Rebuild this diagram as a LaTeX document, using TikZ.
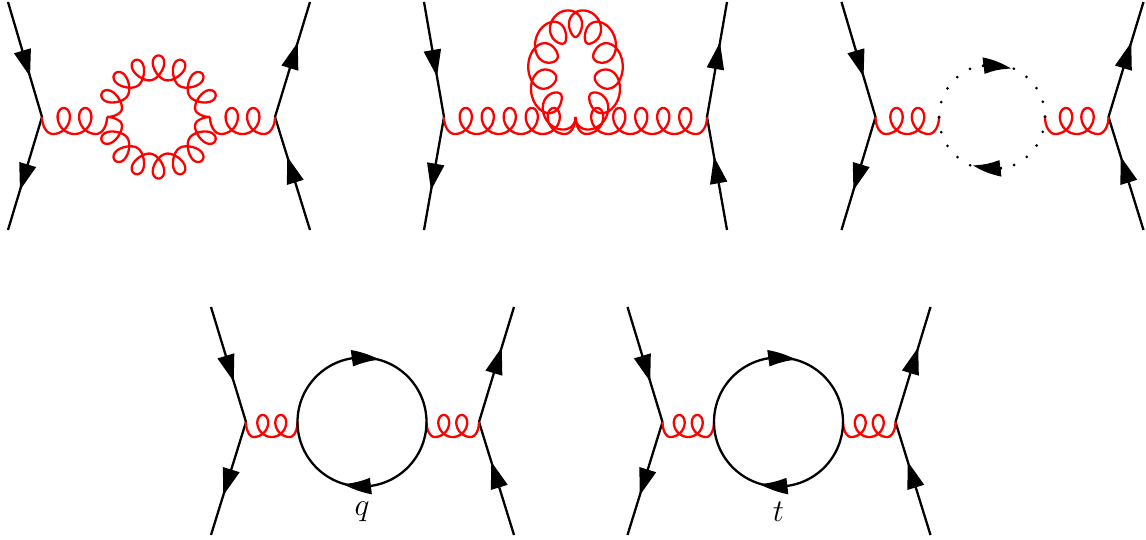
\documentclass[tikz,border=0pt]{standalone}
\usetikzlibrary{arrows.meta,bending,decorations.markings}
\tikzset{
    fermion/.style={draw,line width=1.15pt,
        decoration={markings,mark=at position 0.65 with {\arrow{Triangle[length=13.5pt,width=8.5pt]}}},
        postaction={decorate}},
    gluon/.style={draw=red,line width=1.15pt,line join=round},
    ringdots/.style={line width=1.5pt,line cap=round,dash pattern=on 0pt off 7.55pt},
    ringline/.style={line width=1.15pt},
    ringarrow/.style={line width=1.15pt,-{Triangle[length=14pt,width=8pt,bend]}},
    declare function={
        gluonu(\t)=(\t<180) ? \gend*(1-sin(\t)) : ((\t>\gtop-180) ? \glen-\gend*(1-sin(\gtop-\t)) : \gend+\gstep*rad(\t-180)-\gwide*sin(\t));
        gluonv(\t)=(\t<180) ? (\ghigh-\gmid)*cos(\t) : ((\t>\gtop-180) ? (\ghigh-\gmid)*cos(\gtop-\t) : \gmid+\ghigh*cos(\t));
    }
}
% loop height, shift of its middle, loop width
\newcommand{\gluonshape}[3]{\def\ghigh{#1}\def\gmid{#2}\def\gwide{#3}}
\newcommand{\gluonsetup}[3]{% length, loops, period
    \pgfmathsetmacro\glen{#1}
    \pgfmathsetmacro\gtop{360*(#2+1)}
    \pgfmathsetmacro\gend{(\glen-#2*#3)/2}
    \pgfmathsetmacro\gstep{#3/(2*pi)}
    \pgfmathsetmacro\gstop{\gtop-90}
    \pgfmathsetmacro\gcount{int(48*(#2+1))+1}
}
% from, to, loops, period
\newcommand{\gluonline}[4]{
    \pgfpointdiff{\pgfpointanchor{#1}{center}}{\pgfpointanchor{#2}{center}}
    \pgfgetlastxy{\gdx}{\gdy}
    \pgfmathsetmacro\gdist{\gdx/0.5}
    \gluonsetup{\gdist}{#3}{#4}
    \draw[gluon,shift={(#1)}] plot[domain=90:\gstop,samples=\gcount,variable=\t] ({gluonu(\t)},{gluonv(\t)});
}
% centre, x radius, y radius, start angle, sweep, side, loops, period
\newcommand{\gluonring}[8]{
    \gluonsetup{rad(abs(#5))*(#2+#3)/2}{#7}{#8}
    \draw[gluon,shift={(#1)}] plot[domain=90:\gstop,samples=\gcount,variable=\t]
        ({(#2+#6*gluonv(\t))*cos(#4+#5*(gluonu(\t)/\glen))},{(#3+#6*gluonv(\t))*sin(#4+#5*(gluonu(\t)/\glen))});
}
\begin{document}
\begin{tikzpicture}[x=0.5pt,y=0.5pt]
    \useasboundingbox (0,0) rectangle (1146,540);
    % outer quark lines
    \foreach \sx/\sy/\xa/\xb/\xc/\xd [count=\n] in {0/0/8/42/275/310, 0/0/424/444/707/727, 833.5/0/8/42/275/310, 204/-305/7/42/275/310, 620.5/-305/7/42/275/310} {
        \begin{scope}[shift={(\sx,\sy)}]
            \coordinate (vl\n) at (\xb,423);
            \coordinate (vr\n) at (\xc,423);
            \coordinate (tl\n) at (\xa,538);
            \coordinate (bl\n) at (\xa,310);
            \coordinate (tr\n) at (\xd,538);
            \coordinate (br\n) at (\xd,310);
        \end{scope}
        \draw[fermion] (tl\n) -- (vl\n);
        \draw[fermion] (vl\n) -- (bl\n);
        \draw[fermion] (vr\n) -- (tr\n);
        \draw[fermion] (br\n) -- (vr\n);
    }
    % gluon ring
    \coordinate (a1) at (107,423);
    \coordinate (b1) at (210,423);
    \coordinate (c1) at (158.5,423);
    \gluonshape{13}{-4}{11}
    \gluonline{vl1}{a1}{2}{21.5}
    \gluonline{b1}{vr1}{2}{21.5}
    \gluonshape{12}{-2}{10}
    \gluonring{c1}{51.5}{51.5}{180}{-180}{1}{7}{20.2}
    \gluonring{c1}{51.5}{51.5}{0}{-180}{1}{7}{20.2}
    % gluon tadpole
    \coordinate (m2) at (575.5,423);
    \coordinate (c2) at (575.5,468.5);
    \gluonshape{13}{-4}{11}
    \gluonline{vl2}{m2}{5}{22}
    \gluonline{m2}{vr2}{5}{22}
    \gluonshape{14}{-3}{13}
    \gluonring{c2}{30.5}{45.5}{-90}{360}{-1}{9}{22}
    % ghost ring
    \coordinate (a3) at (939,423);
    \coordinate (b3) at (1045,423);
    \gluonshape{13}{-4}{11}
    \gluonline{vl3}{a3}{2}{21.5}
    \gluonline{b3}{vr3}{2}{21.5}
    \draw[ringdots] (a3) arc[start angle=180,end angle=0,radius=53];
    \draw[ringdots] (b3) arc[start angle=0,end angle=-180,radius=53];
    \draw[ringarrow] (982,474) arc[start angle=100,end angle=68,radius=53];
    \draw[ringarrow] (1002,372) arc[start angle=-80,end angle=-112,radius=53];
    % quark rings
    \gluonshape{11}{-4}{9.5}
    \foreach \n/\cx/\lab in {4/362/q,5/778.5/t} {
        \coordinate (a\n) at (\cx-64.5,423-305);
        \coordinate (b\n) at (\cx+64.5,423-305);
        \gluonline{vl\n}{a\n}{2}{18}
        \gluonline{b\n}{vr\n}{2}{18}
        \draw[ringline] (a\n) arc[start angle=180,end angle=0,radius=64.5];
        \draw[ringline] (b\n) arc[start angle=0,end angle=-180,radius=64.5];
        \draw[ringarrow] (\cx-8,118+64) arc[start angle=97,end angle=74,radius=64.5];
        \draw[ringarrow] (\cx+9,118-64) arc[start angle=-82,end angle=-107,radius=64.5];
        \node[scale=1.1] (\lab) at (\cx,28) {\Large $\lab$};
    }
\end{tikzpicture}
\end{document}
